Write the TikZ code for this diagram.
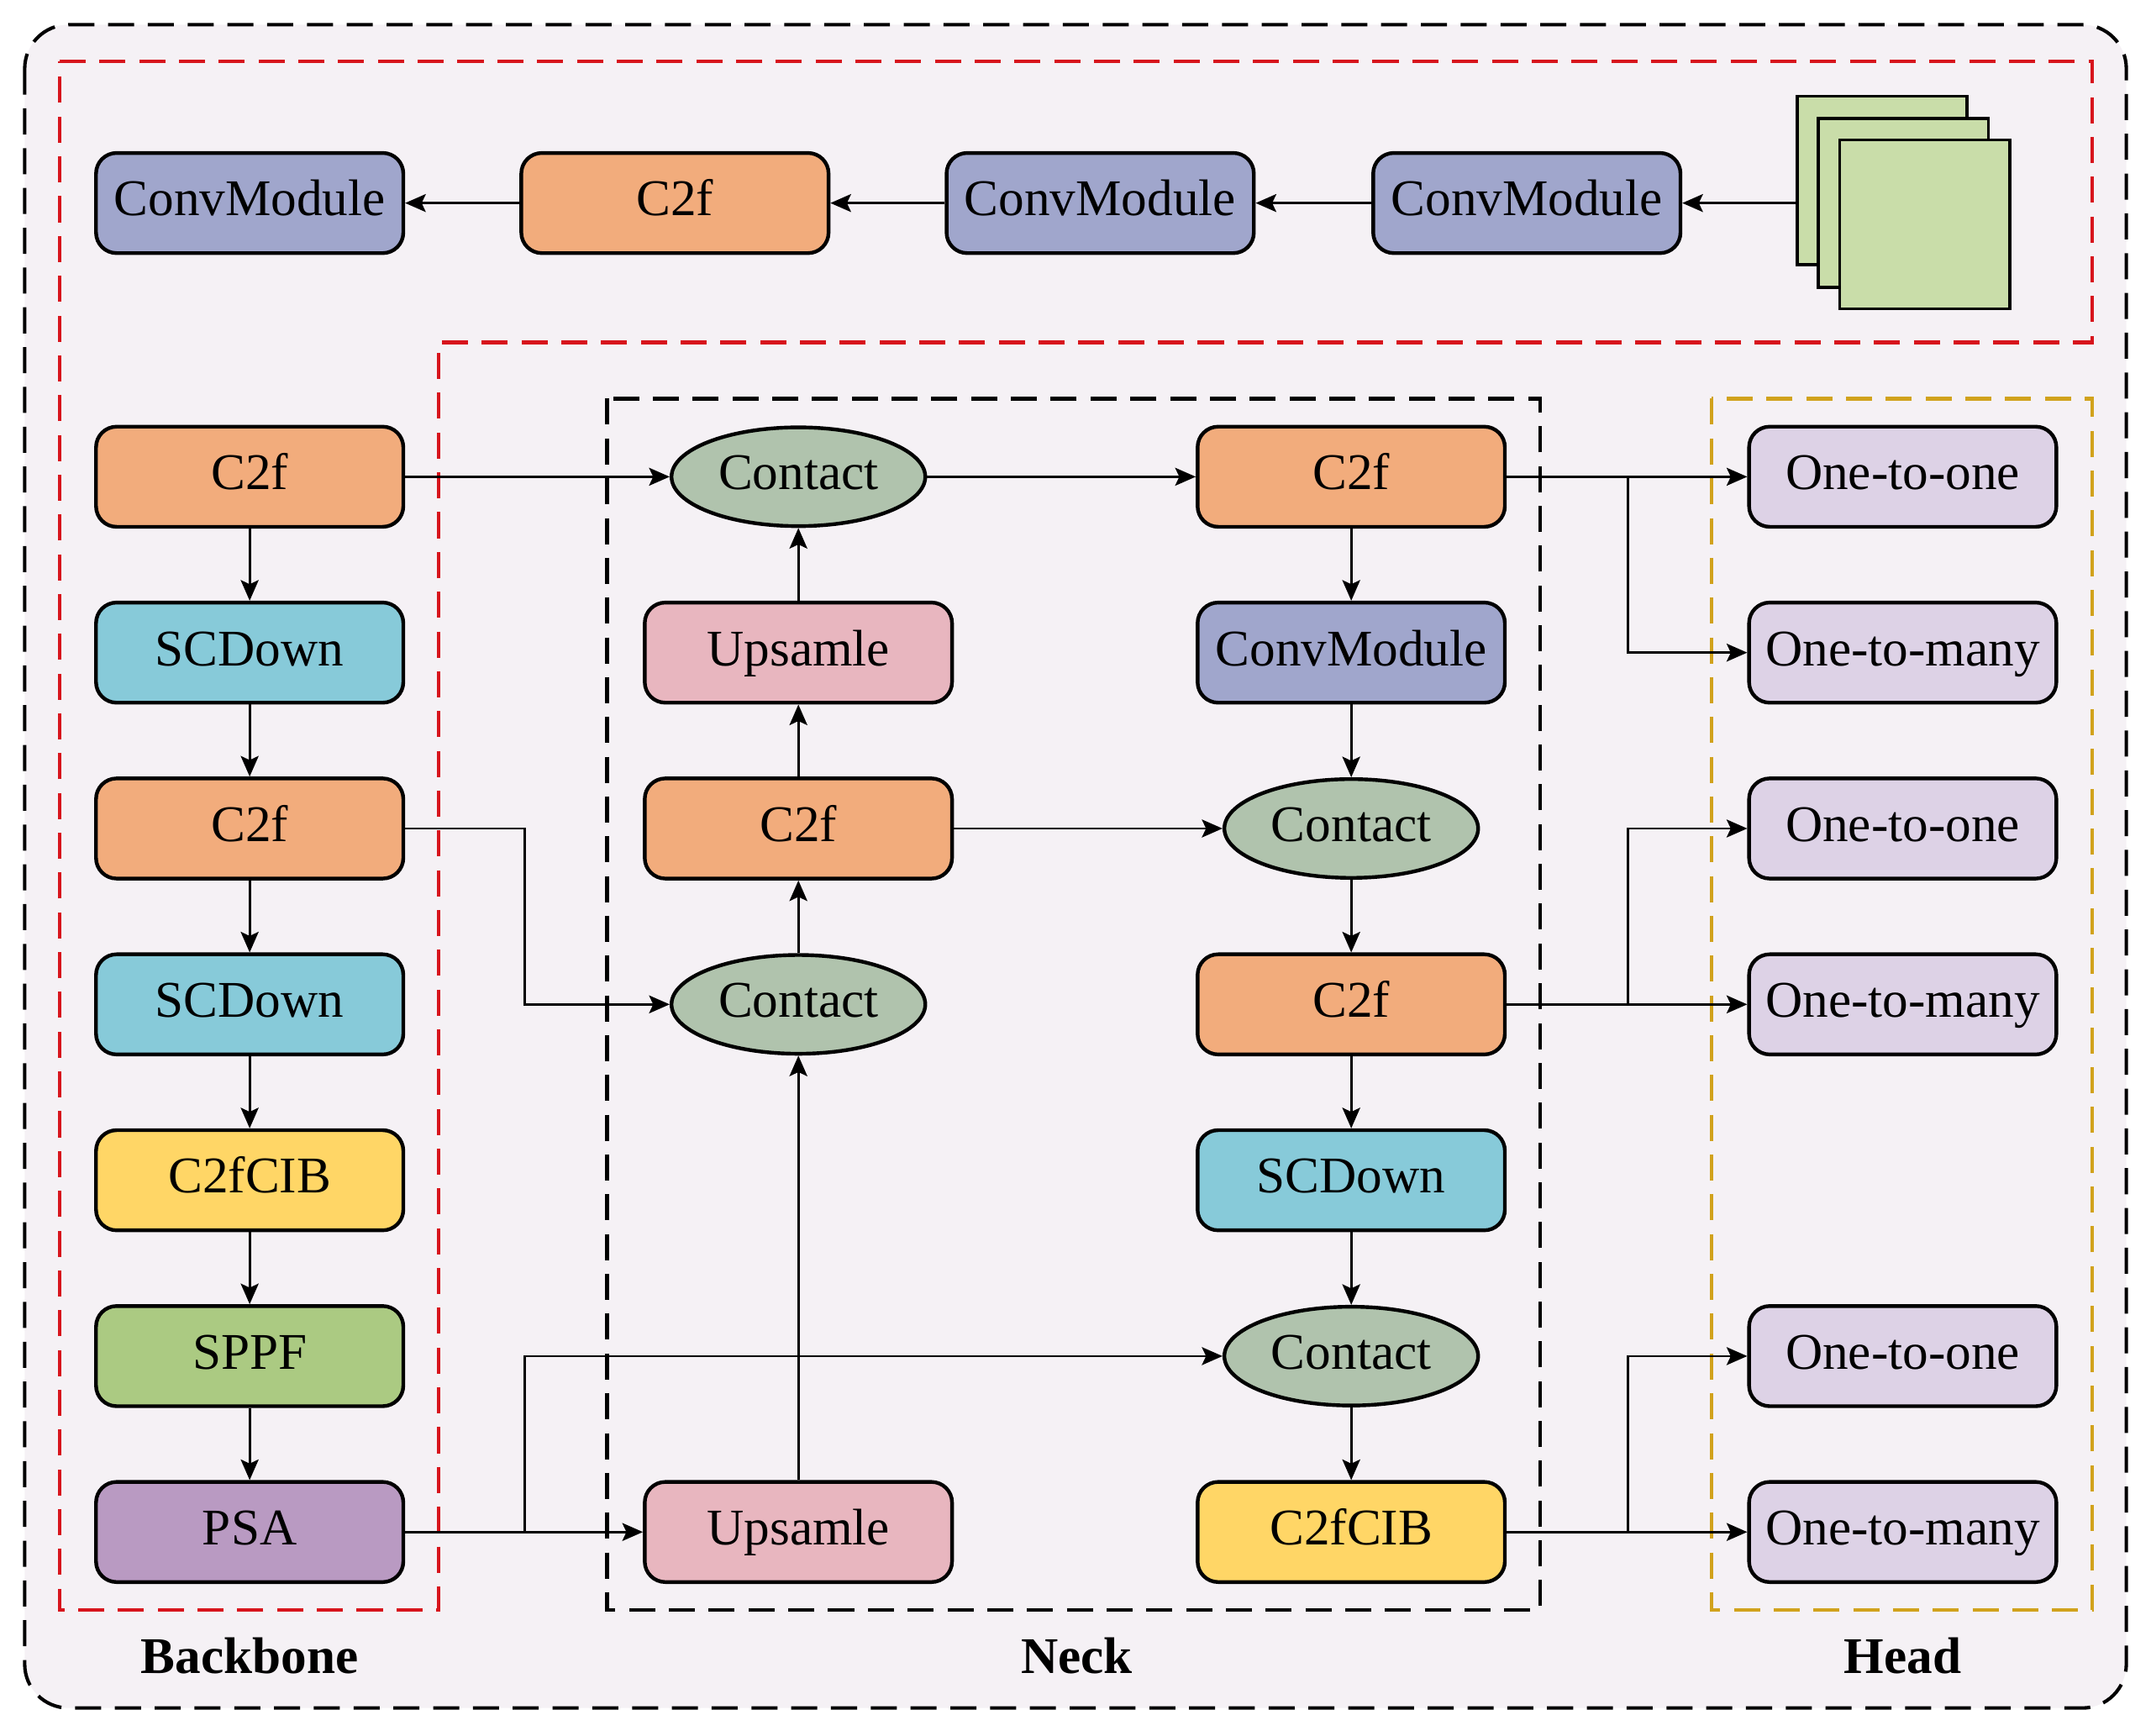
\documentclass[tikz,border=0pt]{standalone}
\usepackage{fontspec}
\setmainfont{Liberation Serif}
\usetikzlibrary{arrows.meta,shapes.geometric,calc}
\definecolor{bgc}{HTML}{F5F1F5}
\definecolor{convc}{HTML}{A0A6CC}
\definecolor{c2fc}{HTML}{F2AC7C}
\definecolor{scdc}{HTML}{87CAD9}
\definecolor{cibc}{HTML}{FFD666}
\definecolor{sppfc}{HTML}{ABCA82}
\definecolor{psac}{HTML}{B99AC2}
\definecolor{upc}{HTML}{E8B6BF}
\definecolor{contc}{HTML}{B0C3AD}
\definecolor{headc}{HTML}{DDD2E6}
\definecolor{sqc}{HTML}{C9DDA9}
\definecolor{redc}{HTML}{D7141C}
\definecolor{yelc}{HTML}{D1A21C}
\begin{document}
\begin{tikzpicture}[x=0.5pt,y=-0.5pt,
  txt/.style={font=\fontsize{18.75pt}{22pt}\selectfont, text height=13pt, text depth=3.6pt},
  blk/.style={txt, draw=black, line width=1.35pt, rounded corners=7.5pt, minimum width=112pt, minimum height=36.5pt, inner sep=0pt},
  ell/.style={txt, ellipse, draw=black, line width=1.35pt, minimum width=92.5pt, minimum height=36pt, inner sep=0pt, fill=contc},
  conn/.style={line width=0.85pt, -{Stealth[length=7.5pt,width=6.5pt,inset=1.5pt]}},
  dsh/.style={line width=1.25pt, dash pattern=on 9.5pt off 5pt},
  sq/.style={draw=black, line width=1.1pt, fill=sqc, minimum width=62pt, minimum height=61.5pt, inner sep=0pt},
  lab/.style={font=\fontsize{18.75pt}{22pt}\selectfont\bfseries, anchor=base, inner sep=0pt}
]
\useasboundingbox (0,0) rectangle (1568,1265.4);
% frames
\draw[dsh, fill=bgc, rounded corners=16pt] (18,18) rectangle (1550,1245);
\draw[dsh, draw=redc] (43.5,44.6) -- (1525.3,44.6) -- (1525.3,249.6) -- (319.8,249.6) -- (319.8,1173.5) -- (43.5,1173.5) -- cycle;
\draw[dsh] (442.5,290.6) rectangle (1122.8,1173.5);
\draw[dsh, draw=yelc] (1247.8,290.6) rectangle (1525.3,1173.5);
% row positions
\def\ra{347.5}\def\rb{475.7}\def\rc{603.9}\def\rd{732.1}\def\re{860.3}\def\rf{988.5}\def\rg{1116.7}
% top row
\node[blk, fill=convc] (t1) at (182,148) {ConvModule};
\node[blk, fill=c2fc] (t2) at (492,148) {C2f};
\node[blk, fill=convc] (t3) at (802,148) {ConvModule};
\node[blk, fill=convc] (t4) at (1113,148) {ConvModule};
\node[sq] (sq1) at (1372,131.5) {};
\node[sq] (sq2) at (1387.5,148) {};
\node[sq] (sq3) at (1403,163.5) {};
% backbone
\node[blk, fill=c2fc] (b1) at (182,\ra) {C2f};
\node[blk, fill=scdc] (b2) at (182,\rb) {SCDown};
\node[blk, fill=c2fc] (b3) at (182,\rc) {C2f};
\node[blk, fill=scdc] (b4) at (182,\rd) {SCDown};
\node[blk, fill=cibc] (b5) at (182,\re) {C2fCIB};
\node[blk, fill=sppfc] (b6) at (182,\rf) {SPPF};
\node[blk, fill=psac] (b7) at (182,\rg) {PSA};
% neck column 1
\node[ell] (nc1) at (582,\ra) {Contact};
\node[blk, fill=upc] (nup1) at (582,\rb) {Upsamle};
\node[blk, fill=c2fc] (nc2f) at (582,\rc) {C2f};
\node[ell] (nct2) at (582,\rd) {Contact};
\node[blk, fill=upc] (nup2) at (582,\rg) {Upsamle};
% neck column 2
\node[blk, fill=c2fc] (m1) at (985,\ra) {C2f};
\node[blk, fill=convc] (m2) at (985,\rb) {ConvModule};
\node[ell] (m3) at (985,\rc) {Contact};
\node[blk, fill=c2fc] (m4) at (985,\rd) {C2f};
\node[blk, fill=scdc] (m5) at (985,\re) {SCDown};
\node[ell] (m6) at (985,\rf) {Contact};
\node[blk, fill=cibc] (m7) at (985,\rg) {C2fCIB};
% head
\node[blk, fill=headc] (h1) at (1387,\ra) {One-to-one};
\node[blk, fill=headc] (h2) at (1387,\rb) {One-to-many};
\node[blk, fill=headc] (h3) at (1387,\rc) {One-to-one};
\node[blk, fill=headc] (h4) at (1387,\rd) {One-to-many};
\node[blk, fill=headc] (h5) at (1387,\rf) {One-to-one};
\node[blk, fill=headc] (h6) at (1387,\rg) {One-to-many};
% branch columns
\coordinate (bx) at (382.4,0);
\coordinate (jx) at (1186.6,0);
% top row arrows
\draw[conn] (sq1.west |- t4.east) -- (t4.east);
\draw[conn] (t4.west) -- (t3.east);
\draw[conn] (t3.west) -- (t2.east);
\draw[conn] (t2.west) -- (t1.east);
% backbone chain
\draw[conn] (b1.south) -- (b2.north);
\draw[conn] (b2.south) -- (b3.north);
\draw[conn] (b3.south) -- (b4.north);
\draw[conn] (b4.south) -- (b5.north);
\draw[conn] (b5.south) -- (b6.north);
\draw[conn] (b6.south) -- (b7.north);
% backbone to neck
\draw[conn] (b1.east) -- (nc1.west);
\draw[conn] (b3.east) -- (b3.east -| bx) |- (nct2.west);
\draw[conn] (b7.east) -- (nup2.west);
\draw[conn] (b7.east -| bx) |- (m6.west);
% neck column 1 upward
\draw[conn] (nup2.north) -- (nct2.south);
\draw[conn] (nct2.north) -- (nc2f.south);
\draw[conn] (nc2f.north) -- (nup1.south);
\draw[conn] (nup1.north) -- (nc1.south);
% across
\draw[conn] (nc1.east) -- (m1.west);
\draw[conn] (nc2f.east) -- (m3.west);
% neck column 2 downward
\draw[conn] (m1.south) -- (m2.north);
\draw[conn] (m2.south) -- (m3.north);
\draw[conn] (m3.south) -- (m4.north);
\draw[conn] (m4.south) -- (m5.north);
\draw[conn] (m5.south) -- (m6.north);
\draw[conn] (m6.south) -- (m7.north);
% to head
\draw[conn] (m1.east) -- (h1.west);
\draw[conn] (m1.east) -- (m1.east -| jx) |- (h2.west);
\draw[conn] (m4.east) -- (h4.west);
\draw[conn] (m4.east) -- (m4.east -| jx) |- (h3.west);
\draw[conn] (m7.east) -- (h6.west);
\draw[conn] (m7.east) -- (m7.east -| jx) |- (h5.west);
% labels
\node[lab] (lbb) at (182,1220) {Backbone};
\node[lab] (lnk) at (785,1220) {Neck};
\node[lab] (lhd) at (1387,1220) {Head};
\end{tikzpicture}
\end{document}
